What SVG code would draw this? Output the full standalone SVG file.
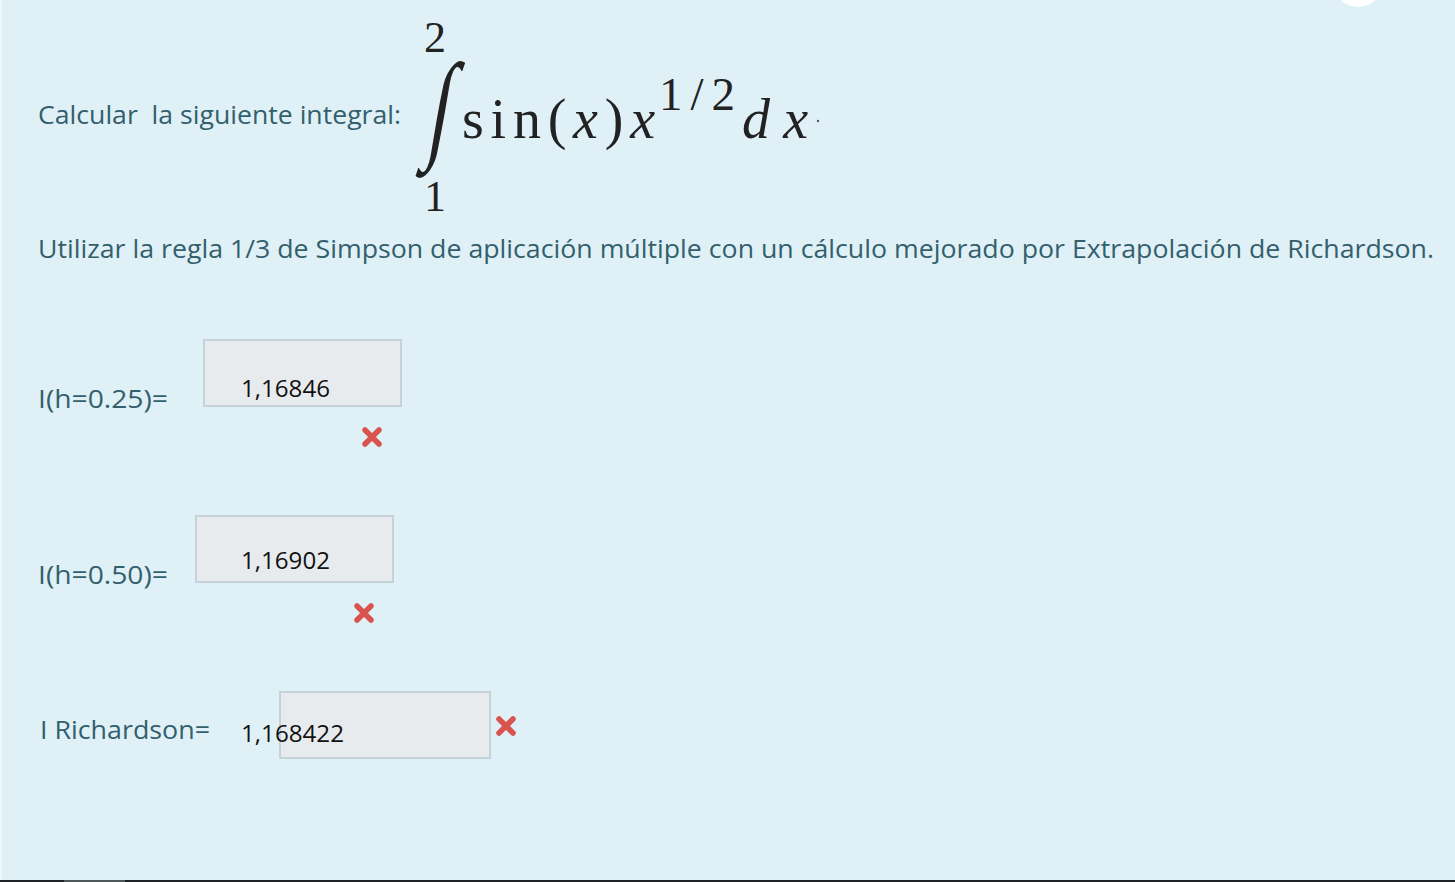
<svg xmlns="http://www.w3.org/2000/svg" width="1455" height="882" viewBox="0 0 1455 882">
<style>
.lbl{font-family:"Open Sans","Noto Sans","Liberation Sans",sans-serif;font-size:26px;fill:#33606c}
.val{font-family:"Open Sans","Noto Sans","Liberation Sans",sans-serif;font-size:24px;fill:#111}
.box{fill:#e8ebee;stroke:#c6d2da;stroke-width:2}
.x{stroke:#d9534f;stroke-width:5.5;stroke-linecap:round}
.m{font-family:"Liberation Serif","DejaVu Serif",serif;fill:#222}
.mi{font-style:italic}
</style>
<rect x="0" y="0" width="1455" height="882" fill="#dff1f7"/>
<rect x="0" y="0" width="2" height="880" fill="#eef8fb"/>
<ellipse cx="1358" cy="-12" rx="22" ry="19" fill="#ffffff"/>
<rect x="0" y="880" width="1455" height="2" fill="#1c2226"/>
<rect x="64" y="880" width="61" height="2" fill="#4e575b"/>

<g id="question">
<text class="lbl" x="38" y="124" textLength="363" lengthAdjust="spacingAndGlyphs" xml:space="preserve">Calcular  la siguiente integral:</text>
<text class="lbl" x="38" y="258" textLength="1396" lengthAdjust="spacingAndGlyphs">Utilizar la regla 1/3 de Simpson de aplicación múltiple con un cálculo mejorado por Extrapolación de Richardson.</text>
</g>

<g id="integral" class="m">
<text x="424" y="52" font-size="44">2</text>
<text x="424" y="211" font-size="44">1</text>
<text x="0" y="0" font-size="58" transform="translate(425,146) skewX(-10) scale(1.35,2.05)">∫</text>
<text x="462" y="138" font-size="56" textLength="193" lengthAdjust="spacing">sin(<tspan class="mi">x</tspan>)<tspan class="mi">x</tspan></text>
<text x="659" y="110" font-size="47" textLength="76" lengthAdjust="spacing">1/2</text>
<text x="742" y="138" font-size="56" class="mi" textLength="66" lengthAdjust="spacing">dx</text>
<circle cx="818" cy="121" r="1.2" fill="#555"/>
</g>

<g id="row1">
<text class="lbl" x="38" y="408" textLength="130" lengthAdjust="spacingAndGlyphs">I(h=0.25)=</text>
<rect class="box" x="204" y="340" width="197" height="66"/>
<text class="val" x="241" y="397" textLength="89" lengthAdjust="spacingAndGlyphs">1,16846</text>
<path class="x" d="M365 430 L379 444 M379 430 L365 444"/>
</g>

<g id="row2">
<text class="lbl" x="38" y="584" textLength="130" lengthAdjust="spacingAndGlyphs">I(h=0.50)=</text>
<rect class="box" x="196" y="516" width="197" height="66"/>
<text class="val" x="241" y="569" textLength="89" lengthAdjust="spacingAndGlyphs">1,16902</text>
<path class="x" d="M357 606 L371 620 M371 606 L357 620"/>
</g>

<g id="row3">
<text class="lbl" x="40" y="739" textLength="170" lengthAdjust="spacingAndGlyphs">I Richardson=</text>
<rect class="box" x="280" y="692" width="210" height="66"/>
<text class="val" x="241" y="742" textLength="103" lengthAdjust="spacingAndGlyphs">1,168422</text>
<path class="x" d="M499 719 L513 733 M513 719 L499 733"/>
</g>
</svg>
